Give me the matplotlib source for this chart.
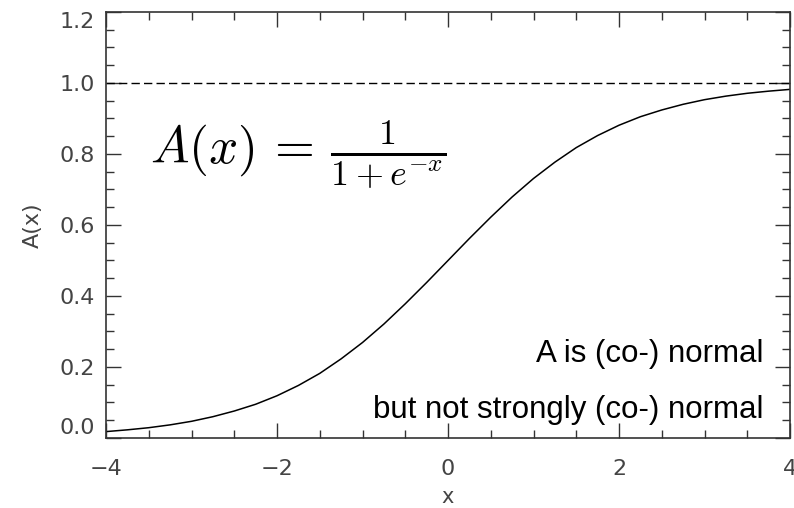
import matplotlib
matplotlib.use("Agg")
import matplotlib.pyplot as plt
import numpy as np

# values (step 0.25)
x_vals = [-4.0, -3.75, -3.5, -3.25, -3.0, -2.75, -2.5, -2.25, -2.0, -1.75, -1.5,
          -1.25, -1.0, -0.75, -0.5, -0.25, 0.0, 0.25, 0.5, 0.75, 1.0, 1.25, 1.5,
          1.75, 2.0, 2.25, 2.5, 2.75, 3.0, 3.25, 3.5, 3.75, 4.0]
a_vals = [0.018, 0.023, 0.029, 0.037, 0.047, 0.060, 0.076, 0.095, 0.119, 0.148, 0.182,
          0.223, 0.269, 0.321, 0.378, 0.438, 0.500, 0.562, 0.622, 0.679, 0.731, 0.777, 0.818,
          0.852, 0.881, 0.905, 0.924, 0.940, 0.953, 0.963, 0.971, 0.977, 0.982]
asymptote = 1.0

x_ticks = [-4, -2, 0, 2, 4]
y_ticks = [0.0, 0.2, 0.4, 0.6, 0.8, 1.0, 1.2]
y_ticklabels = ["0.0", "0.2", "0.4", "0.6", "0.8", "1.0", "1.2"]

plt.rcParams['mathtext.fontset'] = 'cm'
plt.rcParams['axes.unicode_minus'] = True

fig = plt.figure(figsize=(7.94, 5.08), dpi=100)
ax = fig.add_axes([0.1335, 0.1378, 0.8615, 0.8386])

ax.plot(x_vals, a_vals, color="black", lw=1.1)
ax.axhline(asymptote, color="black", lw=1.0, dashes=(6, 3))

ax.set_xlim(-4, 4)
ax.set_ylim(0, 1.2)

ax.set_xticks(x_ticks)
ax.set_xticks(np.arange(-4, 4.01, 0.5), minor=True)
ax.set_yticks(y_ticks)
ax.set_yticklabels(y_ticklabels)
ax.set_yticks(np.arange(0, 1.201, 0.05), minor=True)

ax.tick_params(which="both", direction="in", top=True, right=True, width=1.0, color="#333333")
ax.tick_params(which="major", length=10.8)
ax.tick_params(which="minor", length=5.8)
ax.tick_params(axis="x", which="major", pad=15, labelsize=16, labelcolor="#444444")
ax.tick_params(axis="y", which="major", pad=8, labelsize=16, labelcolor="#444444")
for sp in ax.spines.values():
    sp.set_linewidth(1.2)
    sp.set_color("#333333")

# IDL style: end labels kept inside the axis range
yt = ax.yaxis.get_major_ticks()
yt[0].label1.set_va("bottom")
yt[-1].label1.set_va("top")

ax.set_xlabel("x", fontsize=15, color="#444444", labelpad=6)
ax.set_ylabel("A(x)", fontsize=16, color="#444444", labelpad=12)

ax.text(-3.485, 0.797, r"$A(x)\,=\,\frac{1}{1+e^{-x}}$", fontsize=37,
        ha="left", va="center")
ax.text(3.684, 0.214, "A is (co-) normal", fontsize=22.5, family="Liberation Sans",
        ha="right", va="baseline")
ax.text(3.684, 0.056, "but not strongly (co-) normal", fontsize=22.5, family="Liberation Sans",
        ha="right", va="baseline")

plt.savefig("out.png", dpi=100)
plt.close()
